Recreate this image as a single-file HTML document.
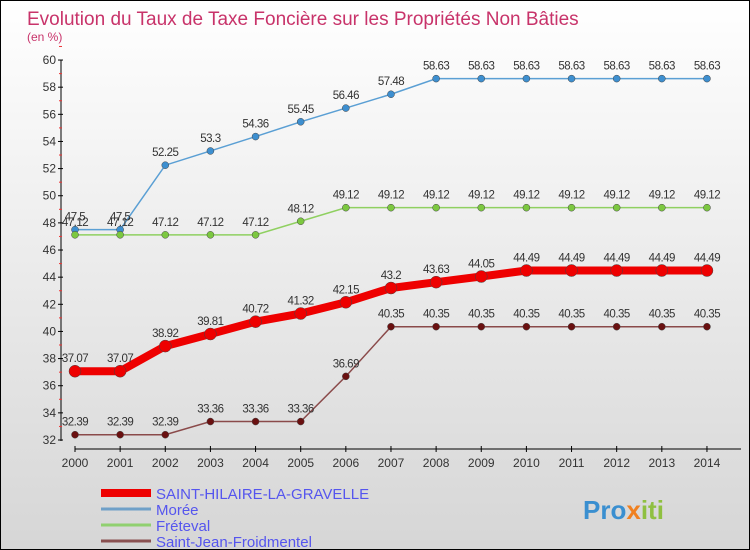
<!DOCTYPE html>
<html><head><meta charset="utf-8"><style>
body{margin:0}
#c{width:748px;height:548px;border:1px solid #000;background:linear-gradient(#fff,#d6d6d6);position:relative;font-family:"Liberation Sans",sans-serif;overflow:hidden}
</style></head><body>
<div id="c">
<svg id="s" width="748" height="548"></svg>
</div>
<script>
const years=[2000,2001,2002,2003,2004,2005,2006,2007,2008,2009,2010,2011,2012,2013,2014];
const hilaire=[37.07,37.07,38.92,39.81,40.72,41.32,42.15,43.2,43.63,44.05,44.49,44.49,44.49,44.49,44.49];
const moree=[47.5,47.5,52.25,53.3,54.36,55.45,56.46,57.48,58.63,58.63,58.63,58.63,58.63,58.63,58.63];
const freteval=[47.12,47.12,47.12,47.12,47.12,48.12,49.12,49.12,49.12,49.12,49.12,49.12,49.12,49.12,49.12];
const sjf=[32.39,32.39,32.39,33.36,33.36,33.36,36.69,40.35,40.35,40.35,40.35,40.35,40.35,40.35,40.35];
const yTicks=[32,34,36,38,40,42,44,46,48,50,52,54,56,58,60];
const names=["SAINT-HILAIRE-LA-GRAVELLE","Morée","Fréteval","Saint-Jean-Froidmentel"];
const s=document.getElementById('s');const NS='http://www.w3.org/2000/svg';
function X(i){return 74+i*45.14;}
function Y(v){return 439-(v-32)*13.57;}
function el(t,a,p){const e=document.createElementNS(NS,t);for(const k in a)e.setAttribute(k,a[k]);(p||s).appendChild(e);return e;}
function tx(x,y,str,a,p){const e=el('text',Object.assign({x:x,y:y},a),p);e.textContent=str;return e;}
let t=tx(26,24,"Evolution du Taux de Taxe Foncière sur les Propriétés Non Bâties",{fill:'#c8336a','font-size':19});

t=tx(26,40,"(en %)",{fill:'#c8336a','font-size':12});

let ax=el('line',{x1:60,y1:Y(60),x2:60,y2:Y(32)+1,stroke:'#000'});

yTicks.forEach(v=>{el('line',{x1:57,x2:62,y1:Y(v),y2:Y(v),stroke:'#000'});el('line',{x1:58,x2:61,y1:Y(v+1),y2:Y(v+1),stroke:'#e33'});
 const l=tx(55,Y(v)+4,v,{'text-anchor':'end','font-size':12,fill:'#333'});});
ax=el('line',{x1:X(0),y1:448,x2:740,y2:448,stroke:'#000'});

years.forEach((y,i)=>{el('line',{x1:X(i),x2:X(i),y1:445,y2:451,stroke:'#000'});
 const l=tx(X(i),466,y,{'text-anchor':'middle','font-size':12,fill:'#333'});});
function series(d,color,w,r,dot,name){
 const g=el('g',{});
 el('polyline',{points:d.map((v,i)=>X(i)+','+Y(v)).join(' '),fill:'none',stroke:color,'stroke-width':w},g);
 d.forEach((v,i)=>{el('circle',{cx:X(i),cy:Y(v),r:r,fill:dot,stroke:'#444','stroke-width':0.5},g);
  tx(X(i),Y(v)-9,String(v),{'text-anchor':'middle','font-size':11.5,fill:'#333','letter-spacing':'-0.5'},g);});
}
series(moree,'#5a9fd4',1.5,3.5,'#3d8fd0','series-moree');
series(freteval,'#8fd060',1.5,3.5,'#7cc840','series-freteval');
series(sjf,'#8a4a4a',1.5,3.5,'#6a1010','series-saint-jean-froidmentel');
series(hilaire,'#ee0000',8,6,'#ee0000','series-saint-hilaire');
const lc=[['#ee0000',8],['#6fa0c8',3],['#90d070',3],['#8a5050',3]];
names.forEach((n,i)=>{const g=el('g',{});
 const y=492+i*16;el('line',{x1:100,x2:150,y1:y,y2:y,stroke:lc[i][0],'stroke-width':lc[i][1]},g);
 tx(155,y+6,n,{fill:'#5555ee','font-size':15},g);});
const p=el('text',{x:582,y:518,'font-size':26,'font-weight':'bold'});


[['Pro','#3a8fd0'],['x','#f08020'],['iti','#8fc040']].forEach(a=>{const sp=el('tspan',{fill:a[1]},p);sp.textContent=a[0];});
</script>
</body></html>
